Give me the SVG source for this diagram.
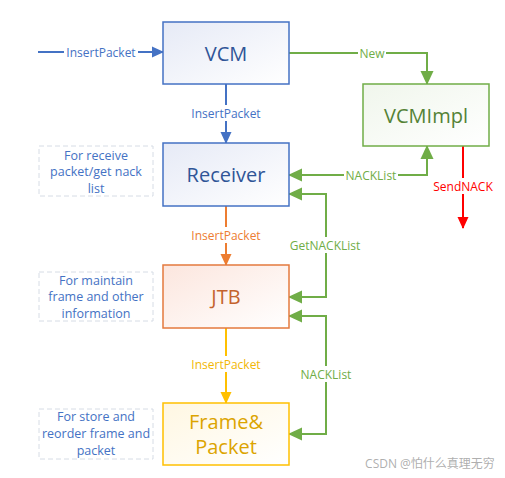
<svg xmlns="http://www.w3.org/2000/svg" width="505" height="478" viewBox="0 0 505 478">
<style>
text{font-family:"Open Sans","Noto Sans",sans-serif;text-anchor:middle;dominant-baseline:central}
.lbl{font-size:12px}
.box{font-size:20px}
.note{font-size:12.5px;fill:#4472C4}
.noteb{fill:#fff;stroke:#D6DCE5;stroke-width:1;stroke-dasharray:5 3}
.bg{fill:#fff}
</style>
<defs>
<linearGradient id="gBlue" x1="0" y1="0" x2="1" y2="1"><stop offset="0" stop-color="#E6EAF6"/><stop offset="1" stop-color="#fff"/></linearGradient>
<linearGradient id="gOrange" x1="0" y1="0" x2="1" y2="1"><stop offset="0" stop-color="#FCE6DE"/><stop offset="1" stop-color="#fff"/></linearGradient>
<linearGradient id="gGreen" x1="0" y1="0" x2="1" y2="1"><stop offset="0" stop-color="#F0F6EC"/><stop offset="1" stop-color="#fff"/></linearGradient>
<linearGradient id="gYellow" x1="0" y1="0" x2="1" y2="1"><stop offset="0" stop-color="#FFF7E2"/><stop offset="1" stop-color="#fff"/></linearGradient>
<marker id="aBlue" markerWidth="12" markerHeight="12" refX="11" refY="6" orient="auto" markerUnits="userSpaceOnUse"><path d="M0,0.5 L12,6 L0,11.5 Z" fill="#4472C4"/></marker>
<marker id="aGreen" markerWidth="14" markerHeight="14" refX="13" refY="7" orient="auto-start-reverse" markerUnits="userSpaceOnUse"><path d="M0,0.5 L14,7 L0,13.5 Z" fill="#70AD47"/></marker>
<marker id="aOrange" markerWidth="12" markerHeight="12" refX="11" refY="6" orient="auto" markerUnits="userSpaceOnUse"><path d="M0,0.5 L12,6 L0,11.5 Z" fill="#ED7D31"/></marker>
<marker id="aYellow" markerWidth="12" markerHeight="12" refX="11" refY="6" orient="auto" markerUnits="userSpaceOnUse"><path d="M0,0.5 L12,6 L0,11.5 Z" fill="#FFC000"/></marker>
<marker id="aRed" markerWidth="12" markerHeight="12" refX="11" refY="6" orient="auto" markerUnits="userSpaceOnUse"><path d="M0,0.5 L12,6 L0,11.5 Z" fill="#FF0000"/></marker>
</defs>
<rect width="505" height="478" fill="#fff"/>

<g id="connectors" fill="none" stroke-width="2">
<line x1="38" y1="52" x2="163" y2="52" stroke="#4472C4" marker-end="url(#aBlue)"/>
<line x1="226" y1="84" x2="226" y2="143" stroke="#4472C4" marker-end="url(#aBlue)"/>
<line x1="226" y1="206" x2="226" y2="265" stroke="#ED7D31" marker-end="url(#aOrange)"/>
<line x1="226" y1="328" x2="226" y2="403" stroke="#FFC000" marker-end="url(#aYellow)"/>
<polyline points="289,53 427,53 427,84" stroke="#70AD47" marker-end="url(#aGreen)"/>
<polyline points="427,146 427,175 289,175" stroke="#70AD47" marker-start="url(#aGreen)" marker-end="url(#aGreen)"/>
<polyline points="289,194 326,194 326,297 289,297" stroke="#70AD47" marker-start="url(#aGreen)" marker-end="url(#aGreen)"/>
<polyline points="289,316 326,316 326,434 289,434" stroke="#70AD47" marker-start="url(#aGreen)" marker-end="url(#aGreen)"/>
<line x1="463" y1="146" x2="463" y2="228" stroke="#FF0000" marker-end="url(#aRed)"/>
<g stroke="none">
<rect class="bg" x="64" y="44" width="74" height="16"/>
<rect class="bg" x="189" y="105" width="74" height="16"/>
<rect class="bg" x="189" y="227" width="74" height="16"/>
<rect class="bg" x="189" y="356" width="74" height="16"/>
<rect class="bg" x="358" y="45" width="28" height="16"/>
<rect class="bg" x="344" y="167" width="54" height="16"/>
<rect class="bg" x="289" y="237" width="74" height="16"/>
<rect class="bg" x="298" y="366" width="56" height="16"/>
<rect class="bg" x="432" y="178" width="62" height="16"/>
</g>
<g stroke="none">
<text class="lbl" x="101" y="52" fill="#4472C4">InsertPacket</text>
<text class="lbl" x="226" y="113" fill="#4472C4">InsertPacket</text>
<text class="lbl" x="226" y="235" fill="#ED7D31">InsertPacket</text>
<text class="lbl" x="226" y="364" fill="#F2B705">InsertPacket</text>
<text class="lbl" x="372" y="53" fill="#70AD47">New</text>
<text class="lbl" x="371" y="175" fill="#70AD47">NACKList</text>
<text class="lbl" x="325" y="245" fill="#70AD47">GetNACKList</text>
<text class="lbl" x="326" y="374" fill="#70AD47">NACKList</text>
<text class="lbl" x="463" y="186" fill="#FF0000">SendNACK</text>
</g>
</g>

<g id="vcm">
<rect x="163" y="22" width="126" height="62" fill="url(#gBlue)" stroke="#4472C4" stroke-width="1.5"/>
<text class="box" x="226" y="53" fill="#2F5597">VCM</text>
</g>
<g id="vcmimpl">
<rect x="363" y="84" width="126" height="62" fill="url(#gGreen)" stroke="#70AD47" stroke-width="1.5"/>
<text class="box" x="426" y="115" fill="#548235">VCMImpl</text>
</g>
<g id="receiver">
<rect x="163" y="143" width="126" height="63" fill="url(#gBlue)" stroke="#4472C4" stroke-width="1.5"/>
<text class="box" x="226" y="174" fill="#2F5597">Receiver</text>
</g>
<g id="jtb">
<rect x="163" y="265" width="126" height="63" fill="url(#gOrange)" stroke="#E47A3E" stroke-width="1.5"/>
<text class="box" x="226" y="296" fill="#C4622D">JTB</text>
</g>
<g id="frame">
<rect x="163" y="403" width="126" height="62" fill="url(#gYellow)" stroke="#FFC000" stroke-width="1.5"/>
<text class="box" x="226" y="421" fill="#DCA400">Frame&amp;</text>
<text class="box" x="226" y="446" fill="#DCA400">Packet</text>
</g>
<g id="note-receiver">
<rect class="noteb" x="39" y="146" width="114" height="50"/>
<text class="note" x="96" y="155">For receive</text>
<text class="note" x="96" y="171">packet/get nack</text>
<text class="note" x="96" y="188">list</text>
</g>
<g id="note-jtb">
<rect class="noteb" x="39" y="272" width="114" height="49"/>
<text class="note" x="96" y="280">For maintain</text>
<text class="note" x="96" y="296">frame and other</text>
<text class="note" x="96" y="313">information</text>
</g>
<g id="note-frame">
<rect class="noteb" x="39" y="409" width="114" height="50"/>
<text class="note" x="96" y="416">For store and</text>
<text class="note" x="96" y="433">reorder frame and</text>
<text class="note" x="96" y="450">packet</text>
</g>
<text x="430" y="463" font-size="12" fill="#999" fill-opacity="0.8" style="font-family:'Open Sans','Noto Sans CJK SC',sans-serif">CSDN @怕什么真理无穷</text>
</svg>
